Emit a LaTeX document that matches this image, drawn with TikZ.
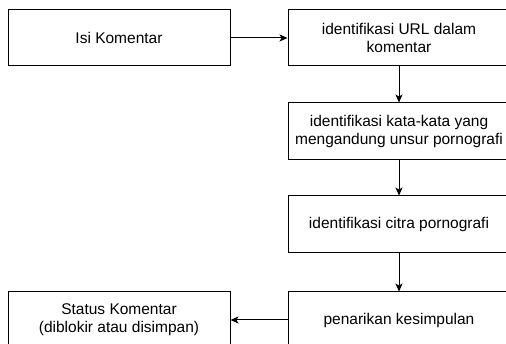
\documentclass[tikz,border=0pt]{standalone}
\usepackage{fontspec}
\setmainfont{Liberation Sans}
\usetikzlibrary{arrows.meta}
\begin{document}
\begin{tikzpicture}[x=1pt,y=-1pt,
  box/.style={draw=black,line width=1pt,minimum width=222pt,minimum height=56pt,inner sep=0pt,align=center,
    font=\fontsize{15.5}{17.8}\selectfont},
  conn/.style={line width=1pt,-{Stealth[length=8pt,width=7pt,inset=2pt]}}]
\useasboundingbox (0,0) rectangle (506,344);
\clip (0,0) rectangle (506,344);
\node[box] (isi) at (119,38) {Isi Komentar};
\node[box] (url) at (399,38) {identifikasi URL dalam\\komentar};
\node[box,minimum height=57pt] (kata) at (399,131.5) {identifikasi kata-kata yang\\mengandung unsur pornografi};
\node[box,minimum height=57pt] (citra) at (399,224.5) {identifikasi citra pornografi};
\node[box] (tarik) at (399,320) {penarikan kesimpulan};
\node[box] (status) at (119,320) {Status Komentar\\(diblokir atau disimpan)};
\draw[conn] (isi) -- (url);
\draw[conn] (url) -- (kata);
\draw[conn] (kata) -- (citra);
\draw[conn] (citra) -- (tarik);
\draw[conn] (tarik) -- (status);
\end{tikzpicture}
\end{document}
